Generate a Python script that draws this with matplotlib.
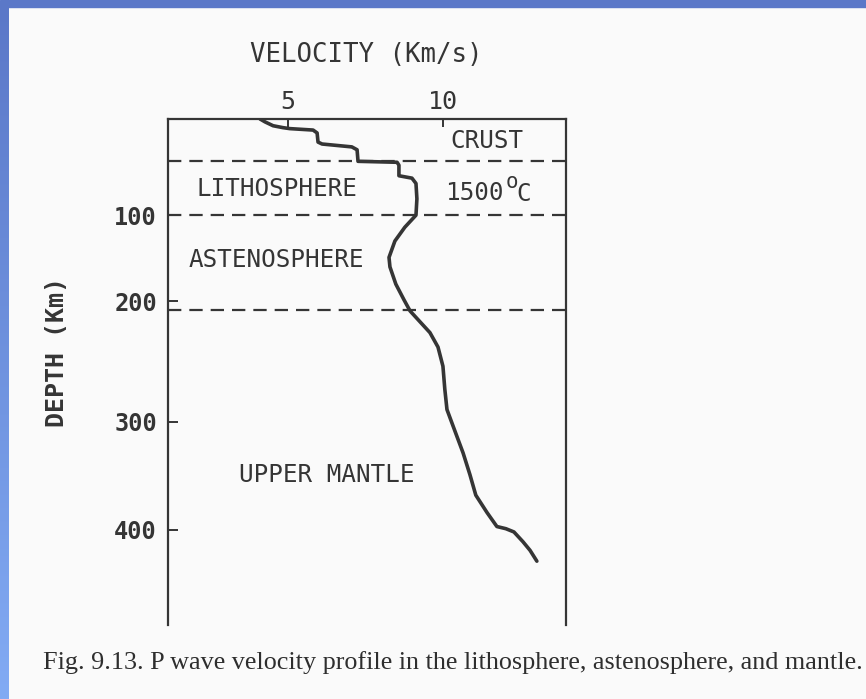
import numpy as np
import matplotlib
matplotlib.use("Agg")
import matplotlib.pyplot as plt
from matplotlib.patches import Rectangle

# P-wave velocity (km/s) against depth (km)
velocity = [4.10, 4.26, 4.52, 4.84, 5.06, 5.81, 5.94, 5.97, 6.10, 6.74, 7.06, 7.23,
            7.26, 8.52, 8.58, 8.58, 9.00, 9.13, 9.16, 9.13, 8.77, 8.45, 8.26, 8.29,
            8.48, 8.74, 8.94, 9.26, 9.58, 9.84, 10.00, 10.06, 10.13, 10.39, 10.65,
            10.87, 11.06, 11.42, 11.74, 12.03, 12.29, 12.58, 12.81, 13.03]
depth = [0, 3, 7, 9, 10, 11.5, 14.5, 24, 26, 28, 29, 32,
         44, 45, 48, 59, 61.5, 67, 83, 100, 114, 130, 149, 160,
         180, 198, 208, 217, 226, 238, 254, 273, 290, 309, 329,
         349, 368, 384, 397, 399, 402, 411, 419, 429]

# layer boundaries (km)
boundaries = [44, 100, 207]
depth_ticks = [100, 200, 300, 400]
velocity_ticks = [5, 10]

layer_labels = [
    (11.42, 23, "CRUST"),
    (4.65, 73, "LITHOSPHERE"),
    (4.61, 152, "ASTENOSPHERE"),
    (6.26, 349, "UPPER MANTLE"),
]

INK = "#353535"
MONO = "DejaVu Sans Mono"

# the printed depth axis is not evenly spaced; follow it piecewise
_d_knots = np.array([-100, 0, 100, 200, 300, 400, 600], dtype=float)
_s_knots = np.array([-96, 0, 96, 182, 302, 410, 626], dtype=float)


def _fwd(d):
    return np.interp(d, _d_knots, _s_knots)


def _inv(s):
    return np.interp(s, _s_knots, _d_knots)


fig = plt.figure(figsize=(8.66, 6.99), dpi=100)
fig.patch.set_facecolor("#fafafa")

# slide frame: blue strip along the top and a gradient strip on the left
fig.patches.append(Rectangle((0, 1 - 7 / 699), 1, 7 / 699, transform=fig.transFigure,
                             color="#5b78c8", zorder=5))
band = fig.add_axes([0, 0, 9 / 866, 1 - 7 / 699])
grad = np.linspace(0, 1, 256)[:, None]
band.imshow(grad, aspect="auto", cmap=matplotlib.colors.LinearSegmentedColormap.from_list(
    "band", ["#5b78c8", "#82abf4"]), extent=[0, 1, 0, 1], origin="upper")
band.axis("off")

ax = fig.add_axes([168 / 866, 1 - 625 / 699, (566 - 168) / 866, (625 - 119) / 699])
ax.set_facecolor("none")
ax.set_yscale("function", functions=(_fwd, _inv))
ax.set_xlim(1.13, 13.97)
ax.set_ylim(488, 0)

ax.plot(velocity, depth, color=INK, linewidth=2.6, solid_capstyle="round",
        solid_joinstyle="round", zorder=3)

for b in boundaries:
    ax.axhline(b, color=INK, linewidth=1.6, dashes=(6, 3.6), zorder=2)

for x, y, s in layer_labels:
    ax.text(x, y, s, ha="center", va="center", fontsize=17.5, color=INK, family=MONO)
# temperature at the base of the lithosphere, with a raised degree "o"
ax.text(11.94, 77, "1500", ha="right", va="center", fontsize=17.5, color=INK, family=MONO)
ax.text(12.02, 65, "o", ha="left", va="center", fontsize=15, color=INK, family=MONO)
ax.text(12.36, 78, "C", ha="left", va="center", fontsize=17.5, color=INK, family=MONO)

for side in ("left", "top", "right"):
    ax.spines[side].set_color(INK)
    ax.spines[side].set_linewidth(1.6)
ax.spines["bottom"].set_visible(False)

ax.xaxis.set_ticks_position("top")
ax.set_xticks(velocity_ticks)
ax.set_xticklabels([str(v) for v in velocity_ticks])
ax.tick_params(axis="x", direction="in", length=6, width=1.4, color=INK, pad=3.5,
               labelsize=18, labelcolor=INK)
ax.set_yticks(depth_ticks)
ax.set_yticks([], minor=True)
ax.set_yticklabels([str(d) for d in depth_ticks], fontweight="bold")
ax.tick_params(axis="y", direction="in", length=7, width=1.4, color=INK, pad=8,
               labelsize=17, labelcolor=INK)
for lab in ax.get_xticklabels() + ax.get_yticklabels():
    lab.set_family(MONO)

fig.text(366 / 866, 1 - 55 / 699, "VELOCITY (Km/s)", ha="center", va="center",
         fontsize=18.5, color=INK, family=MONO)
fig.text(57 / 866, 1 - 352 / 699, "DEPTH (Km)", ha="center", va="center", rotation=90,
         fontsize=18, fontweight="bold", color=INK, family=MONO)
fig.text(43 / 866, 1 - 663 / 699,
         "Fig. 9.13. P wave velocity profile in the lithosphere, astenosphere, and mantle.",
         ha="left", va="center", fontsize=18.8, color="#2e2e2e", family="Liberation Serif")

fig.savefig("out.png", dpi=100, facecolor=fig.get_facecolor())
